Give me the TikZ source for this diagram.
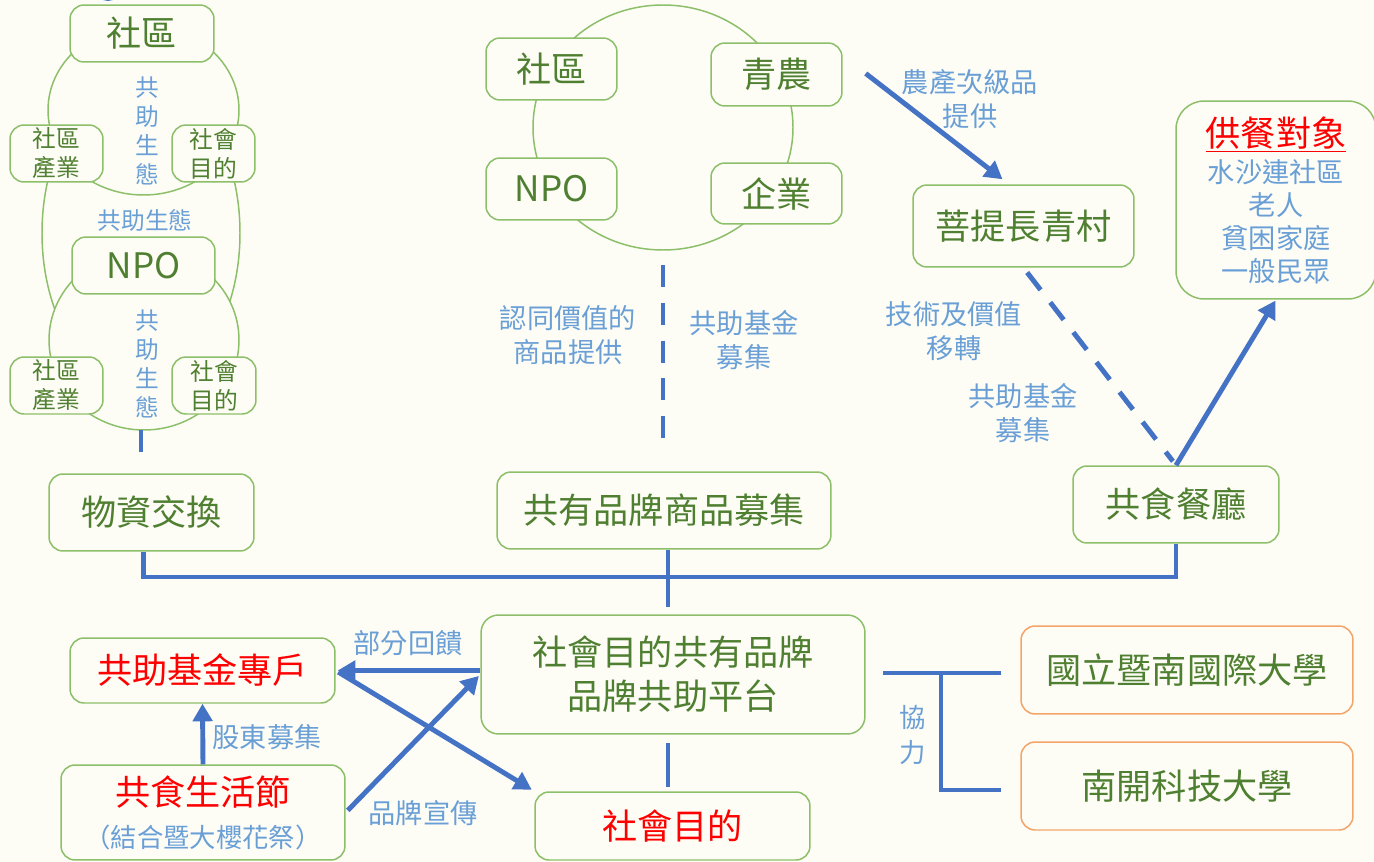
\documentclass[tikz,border=0pt]{standalone}
\usepackage{fontspec}
\setmainfont{Noto Sans CJK TC}
\usepackage{tikz}
\usetikzlibrary{arrows.meta,calc}
\definecolor{paper}{HTML}{FDFDF6}
\definecolor{boxgreen}{HTML}{8DBF6A}
\definecolor{leafgreen}{HTML}{4F7F30}
\definecolor{linkblue}{HTML}{4472C4}
\definecolor{lblue}{HTML}{6A9FD6}
\definecolor{orangeline}{HTML}{F4A468}
\tikzset{
  box/.style={draw=boxgreen, line width=0.85pt, rounded corners=8pt, fill=paper, text=leafgreen,
    align=center, inner sep=0pt, font=\fontsize{20}{25}\selectfont},
  smallbox/.style={box, font=\fontsize{13.5}{16.5}\selectfont},
  unibox/.style={box, draw=orangeline},
  redtxt/.style={text=red},
  link/.style={draw=linkblue, line width=2.8pt},
  arr/.style={link, -{Triangle[length=10pt,width=11pt]}},
  dashlink/.style={link, dash pattern=on 12.5pt off 9pt},
  lab/.style={text=lblue, align=center, font=\fontsize{15.5}{19.5}\selectfont},
  ecolab/.style={text=lblue, align=center, font=\fontsize{13.5}{16.5}\selectfont},
  eco/.style={draw=boxgreen, line width=0.85pt, fill=paper}
}

\begin{document}
\begin{tikzpicture}[x=0.02cm, y=-0.02cm]
  \useasboundingbox (0,0) rectangle (1374,862);
  \fill[paper] (0,0) rectangle (1374,862);
  \clip (0,0) rectangle (1374,862);
  \fill[linkblue] (108,-12) circle [radius=13];

  % left column: two circles inside one ellipse
  \draw[eco] (141,233) ellipse [x radius=99, y radius=155];
  \draw[eco] (143.5,110) ellipse [x radius=95.5, y radius=85];
  \draw[eco] (144,340) ellipse [x radius=95, y radius=90];

  \node[box, minimum width=2.88cm, minimum height=1.14cm] (topComm) at (142,33.5) {社區};
  \node[smallbox, minimum width=1.86cm, minimum height=1.14cm] (indUp) at (56.5,153.5) {社區\\產業};
  \node[smallbox, minimum width=1.66cm, minimum height=1.14cm] (socUp) at (213.5,153.5) {社會\\目的};
  \node[ecolab, font=\fontsize{13.5}{16.4}\selectfont] (ecoUp) at (147,131) {共\\助\\生\\態};
  \node[ecolab] (ecoMid) at (145,220) {共助生態};
  \node[box, minimum width=2.86cm, minimum height=1.14cm] (npoL) at (143.5,265.5) {NPO};
  \node[smallbox, minimum width=1.86cm, minimum height=1.14cm] (indLow) at (56.5,385.5) {社區\\產業};
  \node[smallbox, minimum width=1.68cm, minimum height=1.14cm] (socLow) at (214,385.5) {社會\\目的};
  \node[ecolab, font=\fontsize{13.5}{16.4}\selectfont] (ecoLow) at (147,364) {共\\助\\生\\態};
  \coordinate (stubTop) at (141,430);
  \coordinate (stubEnd) at (141,452);
  \draw[link] (stubTop) -- (stubEnd);

  % middle: partners circle
  \draw[eco] (663,127.5) ellipse [x radius=130, y radius=122.5];
  \node[box, minimum width=2.62cm, minimum height=1.24cm] (mComm) at (551.5,69) {社區};
  \node[box, minimum width=2.62cm, minimum height=1.26cm] (mFarm) at (776.5,74.5) {青農};
  \node[box, minimum width=2.62cm, minimum height=1.24cm] (mNPO) at (551.5,189) {NPO};
  \node[box, minimum width=2.62cm, minimum height=1.22cm] (mCorp) at (776.5,193.5) {企業};
  \coordinate (dashTop) at (663,265);
  \coordinate (dashEnd) at (663,438);
  \draw[dashlink] (dashTop) -- (dashEnd);
  \node[lab] (goodsLab) at (568,335) {認同價值的\\商品提供};
  \node[lab] (fundLabA) at (744,340) {共助基金\\募集};

  % right: village, canteen, served people
  \node[box, minimum width=4.42cm, minimum height=1.64cm] (bodhi) at (1023.5,226) {菩提長青村};
  \node[box, rounded corners=16pt, minimum width=4cm, minimum height=3.96cm, text=lblue,
    font=\fontsize{15.5}{18.7}\selectfont] (target) at (1276,200)
    {\textcolor{red}{\fontsize{20}{22}\selectfont\underline{供餐對象}}\\[2pt]水沙連社區\\老人\\貧困家庭\\一般民眾};
  \node[box, minimum width=4.12cm, minimum height=1.54cm] (canteen) at (1176,504.5) {共食餐廳};
  \draw[arr] ($(mFarm.east)+(23,-1)$) -- ($(bodhi.north)+(-21,-5)$);
  \node[lab] (surplusLab) at (970,99) {農產次級品\\提供};
  \draw[dashlink, shorten <=0.12cm, shorten >=0.1cm] (bodhi.south) -- (canteen.north);
  \draw[arr, shorten >=0.02cm] (canteen.north) -- (target.south);
  \node[lab] (techLab) at (954,331) {技術及價值\\移轉};
  \node[lab] (fundLabB) at (1023,413) {共助基金\\募集};

  % bottom row
  \node[box, minimum width=4.1cm, minimum height=1.54cm] (exch) at (151.5,512.5) {物資交換};
  \node[box, minimum width=6.68cm, minimum height=1.54cm] (brand) at (664,510.5) {共有品牌商品募集};
  \node[box, rounded corners=10pt, minimum width=7.68cm, minimum height=2.38cm,
    font=\fontsize{20}{25}\selectfont] (platform) at (673,674.5) {社會目的共有品牌\\品牌共助平台};
  \node[box, redtxt, minimum width=5.5cm, minimum height=1.36cm] (socGoal) at (672.5,826) {社會目的};
  \node[box, redtxt, minimum width=5.3cm, minimum height=1.3cm] (fund) at (202.5,670.5) {共助基金專戶};
  \node[box, redtxt, minimum width=5.68cm, minimum height=1.9cm] (fest) at (203,812.5)
    {共食生活節\\[-1pt]\textcolor{lblue}{\fontsize{15}{18}\selectfont（結合暨大櫻花祭）}};
  \node[unibox, minimum width=6.64cm, minimum height=1.76cm] (univA) at (1187,670) {國立暨南國際大學};
  \node[unibox, minimum width=6.64cm, minimum height=1.76cm] (univB) at (1187,786) {南開科技大學};

  \coordinate (bus) at (668,577);
  \draw[link] ($(exch.south)+(-8,0)$) |- (bus) -| (canteen.south);
  \draw[link] (bus) -- (bus |- brand.south);
  \draw[link, shorten >=0.14cm] (bus) -- (bus |- platform.north);
  \draw[link, shorten <=0.16cm, shorten >=0.08cm] (bus |- platform.south) -- (bus |- socGoal.north);

  \draw[arr, shorten >=0.04cm] (platform.west |- fund.east) -- (fund.east);
  \node[lab] (backLab) at (408,643) {部分回饋};
  \draw[arr] (fest.north) -- (fund.south);
  \node[lab] (shareLab) at (267,737) {股東募集};
  \draw[arr, shorten <=0.06cm, shorten >=0.04cm] (fest.east) -- (platform.west);
  \node[lab] (promoLab) at (423,813) {品牌宣傳};
  \draw[arr, shorten <=0.06cm, shorten >=0.06cm] (fund.east) -- (socGoal.north west);

  \coordinate (collabL) at (883,673);
  \coordinate (collabJ) at (941,673);
  \draw[link] (collabL) -- ($(univA.west)+(-19,3)$);
  \draw[link] (collabJ) |- ($(univB.west)+(-19,4)$);
  \node[lab, font=\fontsize{15}{20.4}\selectfont] (collabLab) at (913,735) {協\\力};
\end{tikzpicture}
\end{document}
